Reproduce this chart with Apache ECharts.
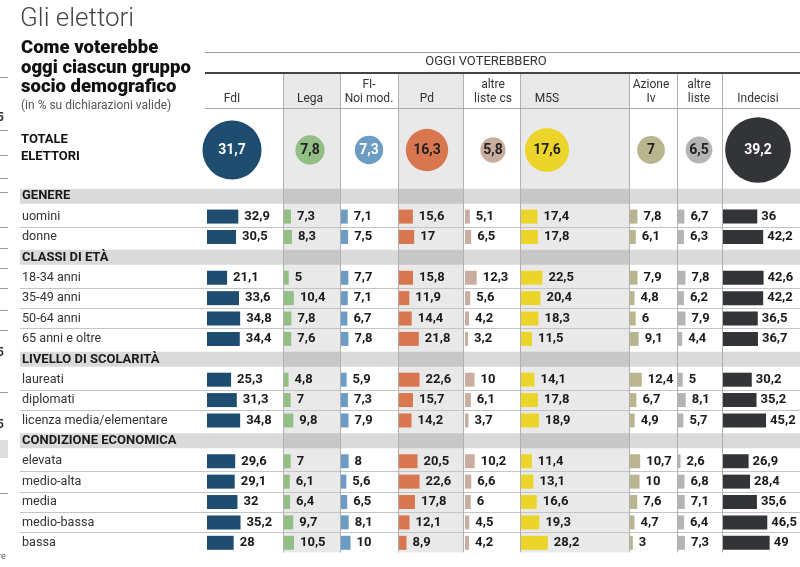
<!DOCTYPE html>
<html><head><meta charset="utf-8">
<script src="https://cdn.jsdelivr.net/npm/echarts@6/dist/echarts.min.js"></script>
<style>html,body{margin:0;padding:0;background:#fff}#c{width:800px;height:567px}</style>
</head><body><div id="c"></div>
<script>
// ---------- DATA ----------
const parties = ['FdI','Lega','FI-\nNoi mod.','Pd','altre\nliste cs','M5S','Azione\nIv','altre\nliste','Indecisi'];
const totals = [31.7, 7.8, 7.3, 16.3, 5.8, 17.6, 7, 6.5, 39.2];
const groupHeaders = ['GENERE','CLASSI DI ETÀ','LIVELLO DI SCOLARITÀ','CONDIZIONE ECONOMICA'];
const groupSizes = [2, 4, 3, 5];
const rowLabels = ['uomini','donne','18-34 anni','35-49 anni','50-64 anni','65 anni e oltre',
  'laureati','diplomati','licenza media/elementare',
  'elevata','medio-alta','media','medio-bassa','bassa'];
const fdi     = [32.9, 30.5, 21.1, 33.6, 34.8, 34.4, 25.3, 31.3, 34.8, 29.6, 29.1, 32, 35.2, 28];
const lega    = [7.3, 8.3, 5, 10.4, 7.8, 7.6, 4.8, 7, 9.8, 7, 6.1, 6.4, 9.7, 10.5];
const fi      = [7.1, 7.5, 7.7, 7.1, 6.7, 7.8, 5.9, 7.3, 7.9, 8, 5.6, 6.5, 8.1, 10];
const pd      = [15.6, 17, 15.8, 11.9, 14.4, 21.8, 22.6, 15.7, 14.2, 20.5, 22.6, 17.8, 12.1, 8.9];
const altreCs = [5.1, 6.5, 12.3, 5.6, 4.2, 3.2, 10, 6.1, 3.7, 10.2, 6.6, 6, 4.5, 4.2];
const m5s     = [17.4, 17.8, 22.5, 20.4, 18.3, 11.5, 14.1, 17.8, 18.9, 11.4, 13.1, 16.6, 19.3, 28.2];
const azione  = [7.8, 6.1, 7.9, 4.8, 6, 9.1, 12.4, 6.7, 4.9, 10.7, 10, 7.6, 4.7, 3];
const altre   = [6.7, 6.3, 7.8, 6.2, 7.9, 4.4, 5, 8.1, 5.7, 2.6, 6.8, 7.1, 6.4, 7.3];
const indecisi= [36, 42.2, 42.6, 42.2, 36.5, 36.7, 30.2, 35.2, 45.2, 26.9, 28.4, 35.6, 46.5, 49];
const partyValues = [fdi, lega, fi, pd, altreCs, m5s, azione, altre, indecisi];

// ---------- LAYOUT / STYLE ----------
const colors = ['#1e4d70','#93bf85','#6c9cc4','#d8764f','#c9ad9f','#ecd52b','#b9b58f','#b4b4b4','#333438'];
const circleText = ['#fff','#222','#fff','#222','#222','#222','#222','#222','#fff'];
const colBarLeft = [207, 284, 341, 398, 465, 521, 630, 678, 723];
const colHeadX   = [232, 310, 369, 427, 493, 547, 651, 699, 758];
const shadeCols  = [[283,340],[398,463],[520,629]];
const vLines     = [283, 340, 398, 463, 520, 629, 677, 722];
const FONT = 'Roboto';
const TOP = 186, ROWS_H = 367;

const fmt = v => String(v).replace('.', ',');

const cats = [], isHeader = [];
let kk = 0;
groupHeaders.forEach((h, g) => {
  cats.push(h); isHeader.push(true);
  for (let j = 0; j < groupSizes[g]; j++) { cats.push(rowLabels[kk++]); isHeader.push(false); }
});
const expand = vals => { let k = 0; return isHeader.map(h => h ? '-' : vals[k++]); };

const grids = [], xAxes = [], yAxes = [], series = [];
// background grid (row labels, bands, separators)
grids.push({left: 20, right: 0, top: TOP, height: ROWS_H});
xAxes.push({type: 'value', gridIndex: 0, min: 0, max: 1, show: false});
yAxes.push({type: 'category', gridIndex: 0, data: cats, inverse: true, z: 4,
  axisLine: {show: false}, axisTick: {show: false},
  axisLabel: {inside: true, margin: 2,
    formatter: (v, i) => isHeader[i] ? '{h|' + v + '}' : '{r|' + v + '}',
    rich: {h: {fontFamily: FONT, fontWeight: 'bold', fontSize: 13, color: '#1a1a1a'},
           r: {fontFamily: FONT, fontSize: 12.6, color: '#333'}}},
  splitLine: {show: true, lineStyle: {color: '#c4c4c4', width: 1},
    interval: (i) => i > 0 && i < cats.length && !isHeader[i] && !isHeader[i - 1]}
});
series.push({type: 'bar', xAxisIndex: 0, yAxisIndex: 0, z: 1, silent: true, barWidth: 15,
  data: isHeader.map(h => h ? 1 : '-'), itemStyle: {color: '#dadada'}, animation: false});

// bar grids
partyValues.forEach((vals, i) => {
  const gi = grids.length;
  grids.push({left: colBarLeft[i], width: 60, top: TOP, height: ROWS_H});
  xAxes.push({type: 'value', gridIndex: gi, min: 0, max: 63, show: false});
  yAxes.push({type: 'category', gridIndex: gi, data: cats, inverse: true, show: false});
  series.push({type: 'bar', xAxisIndex: gi, yAxisIndex: gi, z: 3, barWidth: 14,
    data: expand(vals), itemStyle: {color: colors[i]}, animation: false,
    label: {show: true, position: 'right', distance: i === 8 ? 4 : 6, formatter: p => fmt(p.value),
      fontFamily: FONT, fontWeight: 'bold', fontSize: 13, color: '#1a1a1a'}});
});

// circle grids with column headers
totals.forEach((t, i) => {
  const gi = grids.length;
  grids.push({left: colHeadX[i] - 40, width: 80, top: 115, height: 70});
  xAxes.push({type: 'category', gridIndex: gi, data: [parties[i]], position: 'top',
    axisLine: {show: false}, axisTick: {show: false},
    axisLabel: {margin: 9, fontFamily: FONT, fontSize: 12, color: '#333', lineHeight: 14}});
  yAxes.push({type: 'category', gridIndex: gi, data: [''], show: false});
  series.push({type: 'scatter', xAxisIndex: gi, yAxisIndex: gi, z: 3, animation: false,
    data: [[0, 0, t]], symbolSize: v => 10.5 * Math.sqrt(v[2]),
    itemStyle: {color: colors[i], opacity: 1},
    label: {show: true, position: 'inside', formatter: p => fmt(p.value[2]),
      fontFamily: FONT, fontWeight: 'bold', fontSize: 14, color: circleText[i]}});
});

// decorations
const g = [];
shadeCols.forEach(([a, b]) => g.push({type: 'rect', z: 2, silent: true,
  shape: {x: a, y: 74, width: b - a, height: 553 - 74}, style: {fill: 'rgba(0,0,0,0.085)'}}));
vLines.forEach(x => g.push({type: 'line', z: 5, silent: true,
  shape: {x1: x + 0.5, y1: 74, x2: x + 0.5, y2: 553}, style: {stroke: '#b0b0b0', lineWidth: 1}}));
// hide the closing split line under the last row
g.push({type: 'rect', z: 6, silent: true, shape: {x: 10, y: 552.6, width: 790, height: 3}, style: {fill: '#fff'}});
g.push({type: 'line', z: 5, shape: {x1: 205, y1: 52.5, x2: 800, y2: 52.5}, style: {stroke: '#999', lineWidth: 1}});
g.push({type: 'line', z: 5, shape: {x1: 205, y1: 73, x2: 800, y2: 73}, style: {stroke: '#444', lineWidth: 2}});
g.push({type: 'line', z: 5, shape: {x1: 205, y1: 108.5, x2: 800, y2: 108.5}, style: {stroke: '#aaa', lineWidth: 1}});
g.push({type: 'text', z: 5, style: {x: 486, y: 62, text: 'OGGI VOTEREBBERO', align: 'center', verticalAlign: 'middle',
  font: '13px ' + FONT, fill: '#333'}});
g.push({type: 'text', z: 5, style: {x: 20, y: 19, text: 'Gli elettori', verticalAlign: 'middle',
  font: '300 26px ' + FONT, fill: '#444'}});
g.push({type: 'text', z: 5, style: {x: 21, y: 38.5, text: 'Come voterebbe\noggi ciascun gruppo\nsocio demografico',
  verticalAlign: 'top', font: '900 18.5px ' + FONT, fill: '#111', lineHeight: 19.7}});
g.push({type: 'text', z: 5, style: {x: 21, y: 106, text: '(in % su dichiarazioni valide)', verticalAlign: 'middle',
  font: '12px ' + FONT, fill: '#555'}});
g.push({type: 'text', z: 5, style: {x: 21, y: 131, text: 'TOTALE\nELETTORI', verticalAlign: 'top',
  font: 'bold 13px ' + FONT, fill: '#111', lineHeight: 17}});
// cropped neighbour chart stubs at left edge
[77, 130, 155, 178, 192, 227, 248, 268, 288, 310, 330, 392, 493].forEach(y =>
  g.push({type: 'line', z: 5, shape: {x1: 0, y1: y + 0.5, x2: 8, y2: y + 0.5}, style: {stroke: '#999', lineWidth: 1}}));
g.push({type: 'rect', z: 5, shape: {x: 0, y: 440, width: 8, height: 18}, style: {fill: '#ddd'}});
[[118, '5'], [353, '5'], [425, '5']].forEach(([y, t]) =>
  g.push({type: 'text', z: 5, style: {x: -3, y: y, text: t, verticalAlign: 'middle', font: 'bold 12px ' + FONT, fill: '#333'}}));
g.push({type: 'text', z: 5, style: {x: -2, y: 557, text: 're', verticalAlign: 'middle', font: '9px ' + FONT, fill: '#555'}});

const chart = echarts.init(document.getElementById('c'), null, {renderer: 'canvas'});
chart.setOption({animation: false, grid: grids, xAxis: xAxes, yAxis: yAxes, series: series, graphic: {elements: g}});
</script></body></html>
